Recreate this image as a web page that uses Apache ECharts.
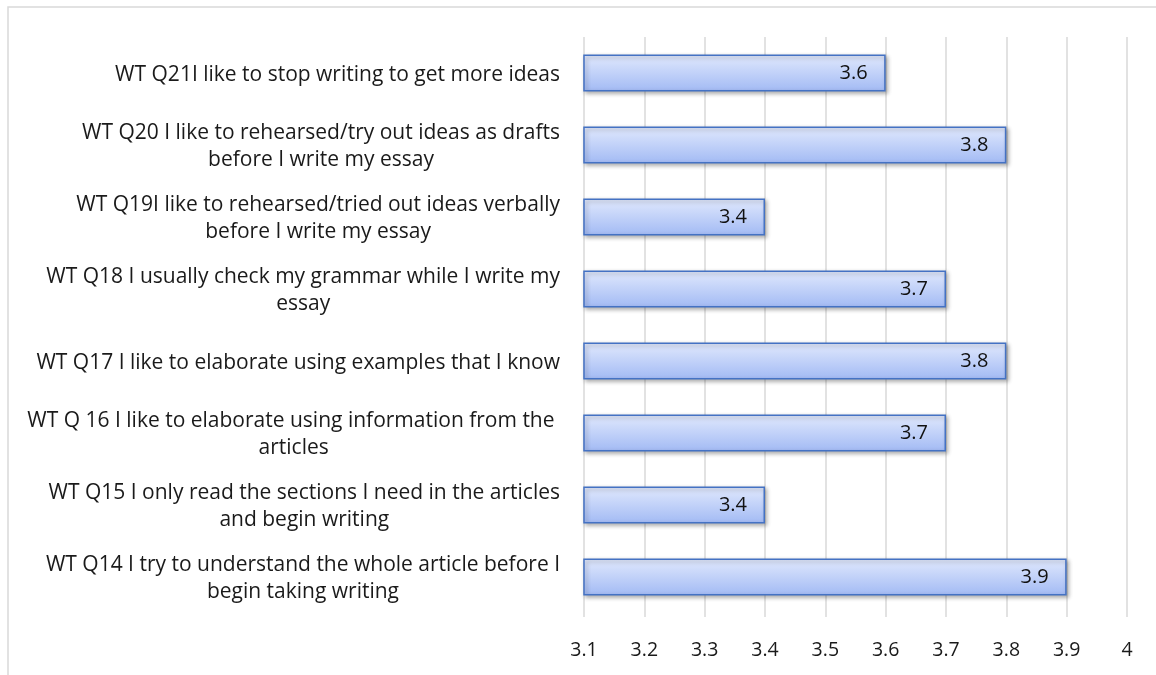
<!DOCTYPE html>
<html>
<head>
<meta charset="utf-8">
<script src="https://cdn.jsdelivr.net/npm/echarts@6/dist/echarts.min.js"></script>
<style>html,body{margin:0;padding:0;background:#fff;}#chart{width:1156px;height:675px;}</style>
</head>
<body>
<div id="chart"></div>
<script>
// Category labels (top to bottom), split into display lines
const categoryLines = [
  ["WT Q21I like to stop writing to get more ideas"],
  ["WT Q20 I like to rehearsed/try out ideas as drafts", "before I write my essay"],
  ["WT Q19I like to rehearsed/tried out ideas verbally", "before I write my essay"],
  ["WT Q18 I usually check my grammar while I write my", "essay"],
  ["WT Q17 I like to elaborate using examples that I know"],
  ["WT Q 16 I like to elaborate using information from the ", "articles"],
  ["WT Q15 I only read the sections I need in the articles", "and begin writing"],
  ["WT Q14 I try to understand the whole article before I", "begin taking writing"]
];
const categories = categoryLines.map(l => l.join("\n"));
const values = [3.6, 3.8, 3.4, 3.7, 3.8, 3.7, 3.4, 3.9];
const xTicks = { min: 3.1, max: 4.0, interval: 0.1 };

const FONT = "'Open Sans', Lato, sans-serif";
const chart = echarts.init(document.getElementById('chart'), null, { renderer: 'canvas' });
chart.setOption({
  backgroundColor: '#ffffff',
  animation: false,
  graphic: [{
    type: 'rect', silent: true, z: -10,
    shape: { x: 8, y: 7, width: 1300, height: 800 },
    style: { fill: 'none', stroke: '#d9d9d9', lineWidth: 1.5 }
  }],
  grid: { left: 584, right: 29, top: 37, bottom: 62, containLabel: false },
  xAxis: {
    type: 'value', min: xTicks.min, max: xTicks.max, interval: xTicks.interval,
    axisLine: { show: false },
    axisTick: { show: true, length: 4, lineStyle: { color: '#d9d9d9', width: 1.5 } },
    splitLine: { show: true, lineStyle: { color: '#d9d9d9', width: 1.5 } },
    axisLabel: {
      margin: 27, fontSize: 19.5, color: '#1a1a1a', fontFamily: FONT,
      formatter: v => String(+v.toFixed(1))
    }
  },
  yAxis: {
    type: 'category', data: categories, inverse: true,
    axisLine: { show: false }, axisTick: { show: false },
    axisLabel: {
      margin: 24, align: 'right', fontFamily: FONT, fontSize: 21, color: '#1a1a1a',
      padding: [4, 0, 0, 0],
      formatter: v => v.split("\n").map(l => '{c|' + l + '}').join("\n"),
      rich: { c: { align: 'center', fontFamily: FONT, fontSize: 21, color: '#1a1a1a', lineHeight: 27 } }
    }
  },
  series: [{
    type: 'bar', data: values, barWidth: 37,
    itemStyle: {
      color: new echarts.graphic.LinearGradient(0, 0, 0, 1, [
        { offset: 0, color: '#e1e9fd' }, { offset: 1, color: '#a2baf4' }
      ]),
      borderColor: '#4472c4', borderWidth: 1.5,
      shadowColor: 'rgba(0,0,0,0.3)', shadowBlur: 4, shadowOffsetX: 2, shadowOffsetY: 2
    },
    label: {
      show: true, position: 'insideRight', distance: 18,
      fontFamily: FONT, fontSize: 20, color: '#111',
      formatter: p => String(p.value)
    }
  }]
});
</script>
</body>
</html>
